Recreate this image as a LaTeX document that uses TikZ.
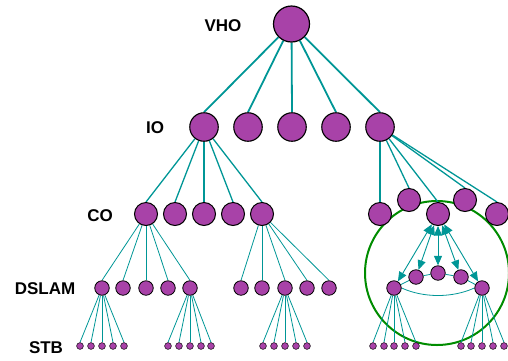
\documentclass[tikz,border=0pt]{standalone}
\usepackage{fontspec}
\setmainfont{Liberation Sans}
\usetikzlibrary{arrows.meta,calc}
\definecolor{nodepurple}{RGB}{168,66,168}
\definecolor{linkteal}{RGB}{0,150,150}
\definecolor{ringgreen}{RGB}{0,140,0}
\pgfdeclarelayer{ringlayer}
\pgfdeclarelayer{edgelayer}
\pgfsetlayers{ringlayer,edgelayer,main}
\begin{document}
\begin{tikzpicture}[x=1pt,y=-1pt,
  dev/.style={circle,draw=black,fill=nodepurple,inner sep=0pt},
  vhobox/.style={dev,minimum size=36pt,line width=1.2pt},
  iobox/.style={dev,minimum size=28.5pt,line width=1.1pt},
  cobox/.style={dev,minimum size=23pt,line width=1pt},
  dslbox/.style={dev,minimum size=14.5pt,line width=0.8pt},
  stbbox/.style={dev,minimum size=6.8pt,line width=0.5pt},
  lvlabel/.style={font=\fontsize{17}{20}\selectfont\bfseries,inner sep=0pt},
  linkA/.style={draw=linkteal,line width=1.8pt},
  linkB/.style={draw=linkteal,line width=1.3pt},
  linkC/.style={draw=linkteal,line width=0.8pt},
  dualarrow/.style={draw=linkteal,line width=0.9pt,{Triangle[length=9.5pt,width=8pt]}-{Triangle[length=9.5pt,width=8pt]}},
  ring/.style={draw=ringgreen,line width=2pt}
]
\useasboundingbox (0,0) rectangle (508,360);

% green ring (behind everything)
\begin{pgfonlayer}{ringlayer}
\draw[ring] (437,273) circle[radius=72];
\end{pgfonlayer}

% labels
\node[lvlabel] (lvho) at (223,26) {VHO};
\node[lvlabel] (lio) at (155,128) {IO};
\node[lvlabel] (lco) at (100,216) {CO};
\node[lvlabel] (ldsl) at (45,289) {DSLAM};
\node[lvlabel] (lstb) at (46,348) {STB};

% VHO
\node[vhobox] (vho) at (291.5,24) {};
% IO
\foreach \i/\x in {1/204,2/248,3/292,4/336,5/380}
  \node[iobox] (io\i) at (\x,127) {};
% CO left
\foreach \i/\x in {1/146,2/175,3/204,4/233,5/262}
  \node[cobox] (co\i) at (\x,214) {};
% CO right
\node[cobox] (cr1) at (380,214) {};
\node[cobox] (cr2) at (409,200) {};
\node[cobox] (cr3) at (438,214) {};
\node[cobox] (cr4) at (465,200) {};
\node[cobox] (cr5) at (497,214) {};
% DSLAM
\foreach \i/\x in {1/102,2/123,3/146,4/168,5/190,6/241,7/262,8/285,9/307,10/329}
  \node[dslbox] (d\i) at (\x,288) {};
\node[dslbox] (dr1) at (394,288) {};
\node[dslbox] (dr2) at (482,288) {};
\node[dslbox] (n1) at (416,277) {};
\node[dslbox] (n2) at (438,273) {};
\node[dslbox] (n3) at (461,277) {};
% STB
\foreach \i/\x in {1/80,2/91,3/102,4/113,5/124,
                   6/168,7/179,8/190,9/201,10/211,
                   11/263,12/274,13/285,14/296,15/307,
                   16/373,17/384,18/394,19/405,20/416,
                   21/461,22/471,23/482,24/493,25/504}
  \node[stbbox] (s\i) at (\x,346) {};

% connectors
\begin{pgfonlayer}{edgelayer}
\foreach \i in {1,...,5} \draw[linkA] (vho) -- (io\i.north);
\foreach \i in {1,...,5} \draw[linkB] (io1) -- (co\i.north);
\foreach \i in {1,...,5} \draw[linkB] (io5) -- (cr\i.north);
\foreach \i in {1,...,5} \draw[linkC] (co1) -- (d\i.north);
\foreach \i in {6,...,10} \draw[linkC] (co5) -- (d\i.north);
\foreach \i in {1,...,5} \draw[linkC] (d1) -- (s\i.north);
\foreach \i in {6,...,10} \draw[linkC] (d5) -- (s\i.north);
\foreach \i in {11,...,15} \draw[linkC] (d8) -- (s\i.north);
\foreach \i in {16,...,20} \draw[linkC] (dr1) -- (s\i.north);
\foreach \i in {21,...,25} \draw[linkC] (dr2) -- (s\i.north);

% ring inside the green circle
\draw[linkC] (dr1) -- (n1);
\draw[linkC] (n1) -- (n2);
\draw[linkC] (n2) -- (n3);
\draw[linkC] (n3) -- (dr2);
\draw[linkC] (dr1.east) .. controls ($(dr1.east)+(22,10)$) and ($(dr2.west)+(-22,10)$) .. (dr2.west);
\end{pgfonlayer}

% dual arrows
\draw[dualarrow] (cr3) -- (dr1);
\draw[dualarrow] (cr3) -- (n1);
\draw[dualarrow] (cr3) -- (n2);
\draw[dualarrow] (cr3) -- (n3);
\draw[dualarrow] (cr3) -- (dr2);
\end{tikzpicture}
\end{document}
